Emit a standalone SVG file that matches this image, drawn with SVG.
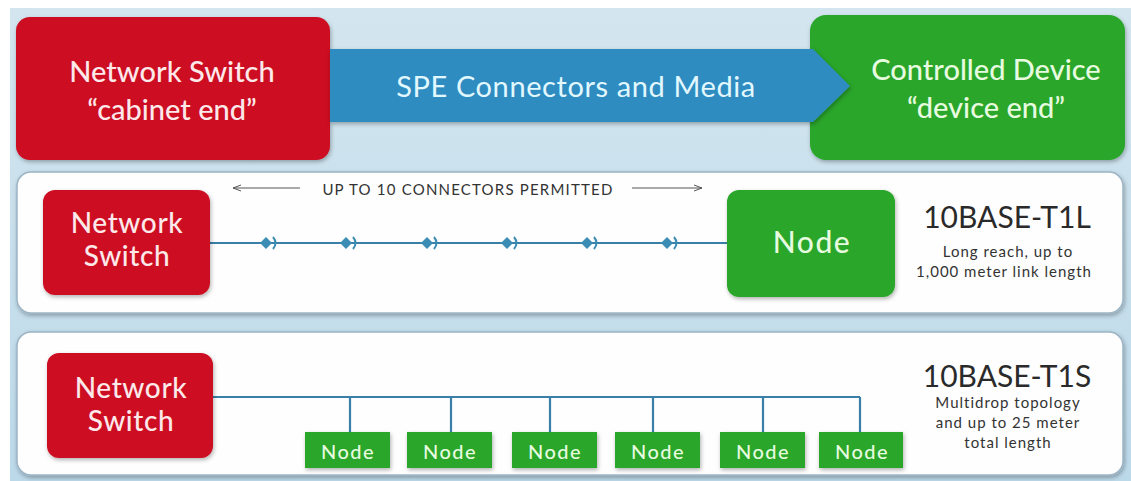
<svg xmlns="http://www.w3.org/2000/svg" width="1131" height="481" viewBox="0 0 1131 481">
<defs>
<linearGradient id="bg" x1="0" y1="0" x2="0" y2="1">
<stop offset="0" stop-color="#d3e6ef"/>
<stop offset="1" stop-color="#bcd9ea"/>
</linearGradient>
<filter id="sh" x="-10%" y="-10%" width="125%" height="130%">
<feDropShadow dx="1" dy="2" stdDeviation="2" flood-color="#000" flood-opacity="0.3"/>
</filter>
<marker id="ah" markerWidth="10" markerHeight="8" refX="9" refY="4" orient="auto-start-reverse" markerUnits="userSpaceOnUse">
<path d="M1 1 L9 4 L1 7" fill="none" stroke="#555" stroke-width="1"/>
</marker>
<g id="conn">
<path d="M-6 0 L0 -6 L6 0 L0 6 Z" fill="#3c8db3"/>
<path d="M7 -6 Q12 0 7 6" fill="none" stroke="#3c8db3" stroke-width="2"/>
</g>
</defs>
<style>
text{font-family:"Lato","Liberation Sans",sans-serif;}
.red{fill:#cc0b20;}
.green{fill:#2aa62b;}
.panel{fill:#fefefe;stroke:#9cb4c4;stroke-width:1.5;}
.wt{fill:#fde8ea;font-weight:500;}
.gt{fill:#e6fbdf;font-weight:500;}
.line{stroke:#3a7fa7;stroke-width:2.2;fill:none;}
.dark{fill:#2a2a2a;}
.small{fill:#333;font-size:15px;letter-spacing:1px;}
.sn{font-size:20px;letter-spacing:1.5px;}
</style>
<rect x="10" y="8" width="1121" height="473" fill="url(#bg)"/>

<g id="cabinet-end">
<rect x="16" y="17" width="314" height="143" rx="14" class="red" filter="url(#sh)"/>
<text x="172" y="82" font-size="29" text-anchor="middle" class="wt">Network Switch</text>
<text x="172" y="120" font-size="29" text-anchor="middle" class="wt">“cabinet end”</text>
</g>
<g id="device-end">
<rect x="810" y="15" width="315" height="145" rx="16" class="green" filter="url(#sh)"/>
<text x="986" y="80" font-size="29" text-anchor="middle" class="gt">Controlled Device</text>
<text x="986" y="118" font-size="29" text-anchor="middle" class="gt">“device end”</text>
</g>
<g id="spe-media">
<polygon points="330,49 813,49 850,86 813,122 330,122" fill="#2e8cc1" filter="url(#sh)"/>
<text x="576" y="97" font-size="29" letter-spacing="0.6" text-anchor="middle" fill="#e2f8ff">SPE Connectors and Media</text>
</g>

<g id="panel-t1l">
<rect x="17" y="172" width="1106" height="141" rx="14" class="panel" filter="url(#sh)"/>
</g>
<g id="panel-t1s">
<rect x="17" y="332" width="1106" height="143" rx="14" class="panel" filter="url(#sh)"/>
</g>

<g id="connectors">
<line x1="300" y1="188" x2="233" y2="188" stroke="#555" stroke-width="1" marker-end="url(#ah)"/>
<line x1="632" y1="188" x2="702" y2="188" stroke="#555" stroke-width="1" marker-end="url(#ah)"/>
<line x1="210" y1="243" x2="727" y2="243" class="line"/>
<use href="#conn" x="266" y="243"/>
<use href="#conn" x="346" y="243"/>
<use href="#conn" x="427" y="243"/>
<use href="#conn" x="507" y="243"/>
<use href="#conn" x="587" y="243"/>
<use href="#conn" x="667" y="243"/>
<path d="M213 397 H860" class="line"/>
<path d="M350 397 V432 M451 397 V432 M550 397 V432 M653 397 V432 M763 397 V432 M860 397 V432" class="line"/>
</g>

<g id="t1l-label">
<text x="468" y="195" font-size="15" letter-spacing="1.2" text-anchor="middle" fill="#333">UP TO 10 CONNECTORS PERMITTED</text>
</g>
<g id="t1l-switch">
<rect x="43" y="190" width="167" height="105" rx="12" class="red" filter="url(#sh)"/>
<text x="127" y="233" font-size="28" letter-spacing="0.6" text-anchor="middle" class="wt">Network</text>
<text x="127" y="266" font-size="28" letter-spacing="0.6" text-anchor="middle" class="wt">Switch</text>
</g>
<g id="t1l-node">
<rect x="727" y="190" width="168" height="107" rx="12" class="green" filter="url(#sh)"/>
<text x="812" y="253" font-size="30" letter-spacing="1.5" text-anchor="middle" class="gt">Node</text>
</g>
<g id="t1l-desc">
<text x="1007" y="228" font-size="30" text-anchor="middle" class="dark">10BASE-T1L</text>
<text x="1008" y="257" text-anchor="middle" class="small">Long reach, up to</text>
<text x="1004" y="277" text-anchor="middle" class="small">1,000 meter link length</text>
</g>

<g id="t1s-switch">
<rect x="47" y="353" width="166" height="105" rx="12" class="red" filter="url(#sh)"/>
<text x="131" y="398" font-size="28" letter-spacing="0.6" text-anchor="middle" class="wt">Network</text>
<text x="131" y="431" font-size="28" letter-spacing="0.6" text-anchor="middle" class="wt">Switch</text>
</g>
<g id="t1s-node1"><rect x="305" y="432" width="85" height="36" class="green" filter="url(#sh)"/><text x="348" y="459" text-anchor="middle" class="gt sn">Node</text></g>
<g id="t1s-node2"><rect x="407" y="432" width="85" height="36" class="green" filter="url(#sh)"/><text x="450" y="459" text-anchor="middle" class="gt sn">Node</text></g>
<g id="t1s-node3"><rect x="512" y="432" width="85" height="36" class="green" filter="url(#sh)"/><text x="555" y="459" text-anchor="middle" class="gt sn">Node</text></g>
<g id="t1s-node4"><rect x="615" y="432" width="85" height="36" class="green" filter="url(#sh)"/><text x="658" y="459" text-anchor="middle" class="gt sn">Node</text></g>
<g id="t1s-node5"><rect x="720" y="432" width="85" height="36" class="green" filter="url(#sh)"/><text x="763" y="459" text-anchor="middle" class="gt sn">Node</text></g>
<g id="t1s-node6"><rect x="819" y="432" width="84" height="36" class="green" filter="url(#sh)"/><text x="862" y="459" text-anchor="middle" class="gt sn">Node</text></g>
<g id="t1s-desc">
<text x="1007" y="387" font-size="30" text-anchor="middle" class="dark">10BASE-T1S</text>
<text x="1008" y="408" text-anchor="middle" class="small">Multidrop topology</text>
<text x="1008" y="428" text-anchor="middle" class="small">and up to 25 meter</text>
<text x="1008" y="448" text-anchor="middle" class="small">total length</text>
</g>
</svg>
